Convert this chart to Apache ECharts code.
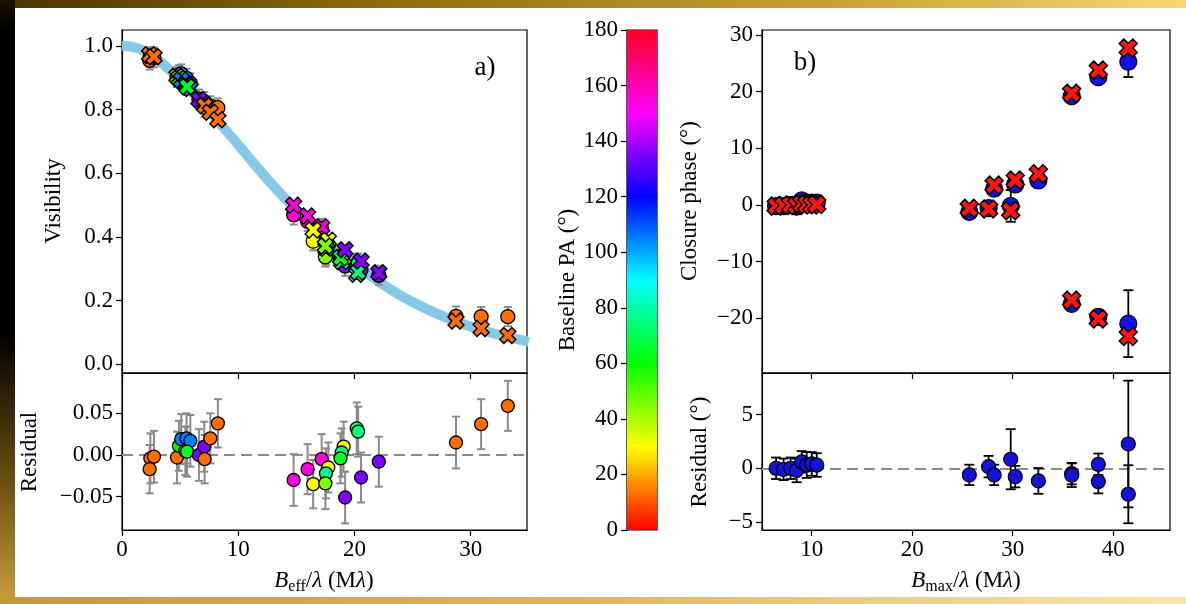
<!DOCTYPE html>
<html><head><meta charset="utf-8">
<script src="https://cdn.jsdelivr.net/npm/echarts@6/dist/echarts.min.js"></script>
<style>html,body{margin:0;padding:0;background:#fff}#c{width:1186px;height:604px}</style>
</head><body><div id="c"></div>
<script>
// ---------------- data ----------------
// model visibility band (panel a)
const curveX = [0,1,2,3,4,5,6,7,8,9,10,11,12,13,14,15,16,17,18,19,20,21,22,23,24,25,26,27,28,29,30,31,32,33,34,35];
const curveV = [1.0,0.996,0.982,0.958,0.928,0.892,0.856,0.816,0.774,0.732,0.690,0.646,0.603,0.562,0.522,0.484,0.447,0.412,0.378,0.346,0.316,0.288,0.262,0.238,0.216,0.196,0.178,0.161,0.146,0.132,0.119,0.108,0.097,0.088,0.079,0.071];

// visibilities (panel a)
const visX     = [2.44,2.38,2.75,4.73,4.90,5.10,5.45,5.55,5.88,5.60,6.62,7.08,7.11,7.60,8.25,14.77,15.97,17.18,16.45,17.75,17.55,17.50,19.07,18.90,18.80,19.20,20.20,20.32,20.57,22.10,28.74,30.90,33.20];
const visPA    = [13,13,13,13,60,105,60,105,105,65,135,135,13,13,13,155,155,155,30,30,75,45,30,75,65,135,78,75,135,135,13,13,13];
const visData  = [0.966,0.955,0.964,0.902,0.909,0.912,0.885,0.898,0.883,0.876,0.832,0.825,0.807,0.812,0.806,0.470,0.449,0.427,0.387,0.375,0.343,0.338,0.345,0.326,0.331,0.309,0.315,0.318,0.298,0.280,0.151,0.150,0.150];
const visModel = [0.970,0.972,0.966,0.905,0.898,0.893,0.880,0.878,0.866,0.872,0.832,0.815,0.812,0.792,0.768,0.500,0.466,0.432,0.422,0.390,0.365,0.372,0.335,0.323,0.335,0.360,0.283,0.290,0.325,0.288,0.136,0.113,0.091];
const visErr   = [0.030,0.029,0.031,0.031,0.030,0.030,0.029,0.030,0.031,0.030,0.031,0.030,0.029,0.030,0.029,0.031,0.030,0.030,0.029,0.030,0.030,0.031,0.030,0.029,0.030,0.031,0.031,0.030,0.030,0.030,0.031,0.030,0.030];
const visRes   = [-0.004,-0.017,-0.002,-0.003,0.011,0.019,0.005,0.020,0.017,0.004,0.000,0.010,-0.005,0.020,0.038,-0.030,-0.017,-0.005,-0.035,-0.015,-0.022,-0.034,0.010,0.003,-0.004,-0.051,0.032,0.028,-0.027,-0.008,0.015,0.037,0.059];

// closure phases (panel b)
const cpX      = [6.45,7.2,7.9,8.5,9.0,9.5,10.0,10.5,25.68,27.6,28.15,29.8,30.25,32.55,35.87,35.87,38.52,38.52,41.5,41.5];
const cpData   = [-0.2,-0.2,0.0,-0.3,0.8,0.4,0.4,0.4,-1.22,-0.55,2.88,-0.16,3.62,4.32,19.2,-17.45,22.56,-19.73,25.28,-20.94];
const cpModel  = [-0.2,-0.1,0.0,-0.1,0.2,0.1,0.0,0.1,-0.6,-0.7,3.5,-1.0,4.4,5.5,19.7,-16.8,23.8,-20.1,27.7,-23.2];
const cpErr    = [1.0,1.0,1.0,1.1,1.0,1.2,1.1,1.1,0.95,1.0,0.95,2.8,1.0,1.2,1.0,1.1,1.1,1.0,2.7,5.9];
const cpRes    = [0.0,-0.1,0.0,-0.2,0.6,0.3,0.4,0.3,-0.62,0.15,-0.62,0.84,-0.78,-1.18,-0.5,-0.65,-1.24,0.37,-2.42,2.26];

// tick labels
const visXTicks  = [0,10,20,30];
const visYTicks  = [0,0.2,0.4,0.6,0.8,1.0];
const visRTicks  = [-0.05,0,0.05];
const cbTicks    = [0,20,40,60,80,100,120,140,160,180];
const cpXTicks   = [10,20,30,40];
const cpYTicks   = [-20,-10,0,10,20,30];
const cpRTicks   = [-5,0,5];
const paRange    = [0,180];

// ---------------- chart ----------------
const FONT = 'Liberation Serif';
const hsv = ['#ff0000','#ffff00','#00ff00','#00ffff','#0000ff','#ff00ff','#ff0020'];
const chart = echarts.init(document.getElementById('c'));
const minusFmt = d => v => (v < -1e-9 ? '\u2212' : '') + Math.abs(v).toFixed(d);
const XPATH = 'path://M0.25,0 L0.5,0.25 L0.75,0 L1,0.25 L0.75,0.5 L1,0.75 L0.75,1 L0.5,0.75 L0.25,1 L0,0.75 L0.25,0.5 L0,0.25 Z';

function xAx(gi, min, max, ticks, showLabel) {
  return {type:'value', gridIndex:gi, min, max, position:'bottom',
    axisLine:{show:true, onZero:false, lineStyle:{color:'#000', width:1.2}},
    axisTick:{show:true, length:6, customValues:ticks, lineStyle:{color:'#000', width:1.2}},
    axisLabel:{show:showLabel, customValues:ticks, margin:8, fontSize:23, fontFamily:FONT, color:'#000', formatter:v=>String(v)},
    splitLine:{show:false}};
}
function yAx(gi, min, max, ticks, fmt) {
  return {type:'value', gridIndex:gi, min, max, position:'left',
    axisLine:{show:true, onZero:false, lineStyle:{color:'#000', width:1.2}},
    axisTick:{show:true, length:6, customValues:ticks, lineStyle:{color:'#000', width:1.2}},
    axisLabel:{show:true, customValues:ticks, margin:9, fontSize:23, fontFamily:FONT, color:'#000', formatter:fmt},
    splitLine:{show:false}};
}
function errSeries(xi, xs, ys, es, color, lw, cap) {
  return {type:'custom', xAxisIndex:xi, yAxisIndex:xi, z:2, silent:true,
    data: xs.map((x,i)=>[x, ys[i], es[i]]), encode:{x:0, y:1},
    renderItem:(params, api)=>{
      const x = api.value(0), y = api.value(1), e = api.value(2);
      const a = api.coord([x, y - e]), b = api.coord([x, y + e]);
      const st = {stroke:color, lineWidth:lw};
      return {type:'group', children:[
        {type:'line', shape:{x1:a[0], y1:a[1], x2:b[0], y2:b[1]}, style:st},
        {type:'line', shape:{x1:a[0]-cap, y1:a[1], x2:a[0]+cap, y2:a[1]}, style:st},
        {type:'line', shape:{x1:b[0]-cap, y1:b[1], x2:b[0]+cap, y2:b[1]}, style:st}
      ]};
    }};
}
const zeroLine = {silent:true, symbol:'none', z:1, label:{show:false},
  lineStyle:{type:[11,6], color:'#8c8c8c', width:2.2}, data:[{yAxis:0}]};

const gridBox = {show:true, borderColor:'#000', borderWidth:1.2, backgroundColor:'#fff'};
const grids = [
  Object.assign({left:122, top:30, width:405, height:343}, gridBox),
  Object.assign({left:122, top:373, width:405, height:157}, gridBox),
  Object.assign({left:627, top:30, width:30, height:500}, gridBox),
  Object.assign({left:762, top:30, width:408, height:343}, gridBox),
  Object.assign({left:762, top:373, width:408, height:157}, gridBox)
];

const cbGrad = new echarts.graphic.LinearGradient(0, 1, 0, 0,
  hsv.map((c,i)=>({offset:i/(hsv.length-1), color:c})));

const title = (t, x, y, rot, size) => ({type:'text', x, y, rotation:rot||0, silent:true,
  style:{text:t, fontFamily:FONT, fontSize:size||23, fill:'#000', align:'center', verticalAlign:'middle'}});
const richTitle = (sub, x, y) => ({type:'text', x, y, silent:true,
  style:{text:'{i|B}{s|' + sub + '}{n|/}{i|λ}{n| (M}{i|λ}{n|)}', align:'center', verticalAlign:'middle', fill:'#000',
    rich:{i:{fontFamily:FONT, fontStyle:'italic', fontSize:23, fill:'#000'},
          n:{fontFamily:FONT, fontSize:23, fill:'#000'},
          s:{fontFamily:FONT, fontSize:16, fill:'#000', padding:[11,0,0,0]}}}});

const option = {
  animation:false,
  backgroundColor:'#fff',
  grid: grids,
  xAxis: [
    xAx(0, 0, 34.85, visXTicks, false),
    xAx(1, 0, 34.85, visXTicks, true),
    {type:'category', gridIndex:2, data:['PA'], show:false},
    xAx(3, 5.05, 45.65, cpXTicks, false),
    xAx(4, 5.05, 45.65, cpXTicks, true)
  ],
  yAxis: [
    yAx(0, -0.027, 1.05, visYTicks, minusFmt(1)),
    yAx(1, -0.090, 0.0984, visRTicks, minusFmt(2)),
    {type:'value', gridIndex:2, min:paRange[0], max:paRange[1], interval:20, position:'left',
      axisLine:{show:true, lineStyle:{color:'#000', width:1.2}},
      axisTick:{show:true, length:6, lineStyle:{color:'#000', width:1.2}},
      axisLabel:{margin:9, fontSize:23, fontFamily:FONT, color:'#000'}, splitLine:{show:false}},
    yAx(3, -29.65, 30.88, cpYTicks, minusFmt(0)),
    yAx(4, -5.75, 8.87, cpRTicks, minusFmt(0))
  ],
  visualMap: [{type:'continuous', show:false, min:paRange[0], max:paRange[1], dimension:2,
    seriesIndex:[2,3,5], inRange:{color:hsv}}],
  series: [
    // 0 model band
    {type:'line', xAxisIndex:0, yAxisIndex:0, data:curveX.map((x,i)=>[x, curveV[i]]),
      showSymbol:false, smooth:true, lineStyle:{color:'#86c9e6', width:10}, z:1, silent:true},
    // 1 error bars
    errSeries(0, visX, visData, visErr, '#8a8a8a', 2, 4),
    // 2 data circles
    {type:'scatter', xAxisIndex:0, yAxisIndex:0, data:visX.map((x,i)=>[x, visData[i], visPA[i]]),
      symbol:'circle', symbolSize:14, itemStyle:{borderColor:'#000', borderWidth:1.3, opacity:1}, z:3},
    // 3 model crosses
    {type:'scatter', xAxisIndex:0, yAxisIndex:0, data:visX.map((x,i)=>[x, visModel[i], visPA[i]]),
      symbol:XPATH, symbolSize:16, itemStyle:{borderColor:'#000', borderWidth:1.4, opacity:1}, z:4},
    // 4 residual error bars
    errSeries(1, visX, visRes, visErr, '#8a8a8a', 2, 4),
    // 5 residual circles
    {type:'scatter', xAxisIndex:1, yAxisIndex:1, data:visX.map((x,i)=>[x, visRes[i], visPA[i]]),
      symbol:'circle', symbolSize:13, itemStyle:{borderColor:'#000', borderWidth:1.3, opacity:1}, z:3,
      markLine:zeroLine},
    // 6 colorbar
    {type:'bar', xAxisIndex:2, yAxisIndex:2, data:[paRange[1]], barWidth:'100%', silent:true,
      itemStyle:{color:cbGrad}},
    // 7 cp error bars
    errSeries(3, cpX, cpData, cpErr, '#000', 1.8, 5),
    // 8 cp data
    {type:'scatter', xAxisIndex:3, yAxisIndex:3, data:cpX.map((x,i)=>[x, cpData[i]]),
      symbol:'circle', symbolSize:17, itemStyle:{color:'#1010e8', borderColor:'#000', borderWidth:1.2, opacity:1}, z:3},
    // 9 cp model
    {type:'scatter', xAxisIndex:3, yAxisIndex:3, data:cpX.map((x,i)=>[x, cpModel[i]]),
      symbol:XPATH, symbolSize:18, itemStyle:{color:'#ff1414', borderColor:'#000', borderWidth:1.5, opacity:1}, z:4},
    // 10 cp residual error bars
    errSeries(4, cpX, cpRes, cpErr, '#000', 1.8, 5),
    // 11 cp residual
    {type:'scatter', xAxisIndex:4, yAxisIndex:4, data:cpX.map((x,i)=>[x, cpRes[i]]),
      symbol:'circle', symbolSize:14, itemStyle:{color:'#1414d2', borderColor:'#000', borderWidth:1.2, opacity:1}, z:3,
      markLine:zeroLine}
  ],
  graphic: [
    // decorative frame
    {type:'rect', shape:{x:0, y:0, width:1186, height:8}, silent:true,
      style:{fill:new echarts.graphic.LinearGradient(0,0,1,0,[{offset:0,color:'#4a3500'},{offset:0.35,color:'#94700e'},{offset:0.7,color:'#c9a030'},{offset:1,color:'#f6d870'}])}},
    {type:'rect', shape:{x:0, y:0, width:15, height:604}, silent:true,
      style:{fill:new echarts.graphic.LinearGradient(0,0,0,1,[{offset:0,color:'#1a1200'},{offset:0.05,color:'#000'},{offset:0.55,color:'#000'},{offset:0.8,color:'#6b5010'},{offset:1,color:'#c9a040'}])}},
    {type:'rect', shape:{x:0, y:597, width:1186, height:7}, silent:true,
      style:{fill:new echarts.graphic.LinearGradient(0,0,1,0,[{offset:0,color:'#c49a30'},{offset:0.5,color:'#e0b850'},{offset:1,color:'#fbe6a8'}])}},
    // titles
    title('Visibility', 54, 201, Math.PI/2),
    title('Residual', 30, 452, Math.PI/2),
    title('Baseline PA (°)', 568, 280, Math.PI/2),
    title('Closure phase (°)', 690, 201, Math.PI/2),
    title('Residual (°)', 700, 452, Math.PI/2),
    title('a)', 485, 68, 0, 27),
    title('b)', 805, 63, 0, 27),
    richTitle('eff', 324, 581),
    richTitle('max', 966, 581)
  ]
};
chart.setOption(option);
</script></body></html>
